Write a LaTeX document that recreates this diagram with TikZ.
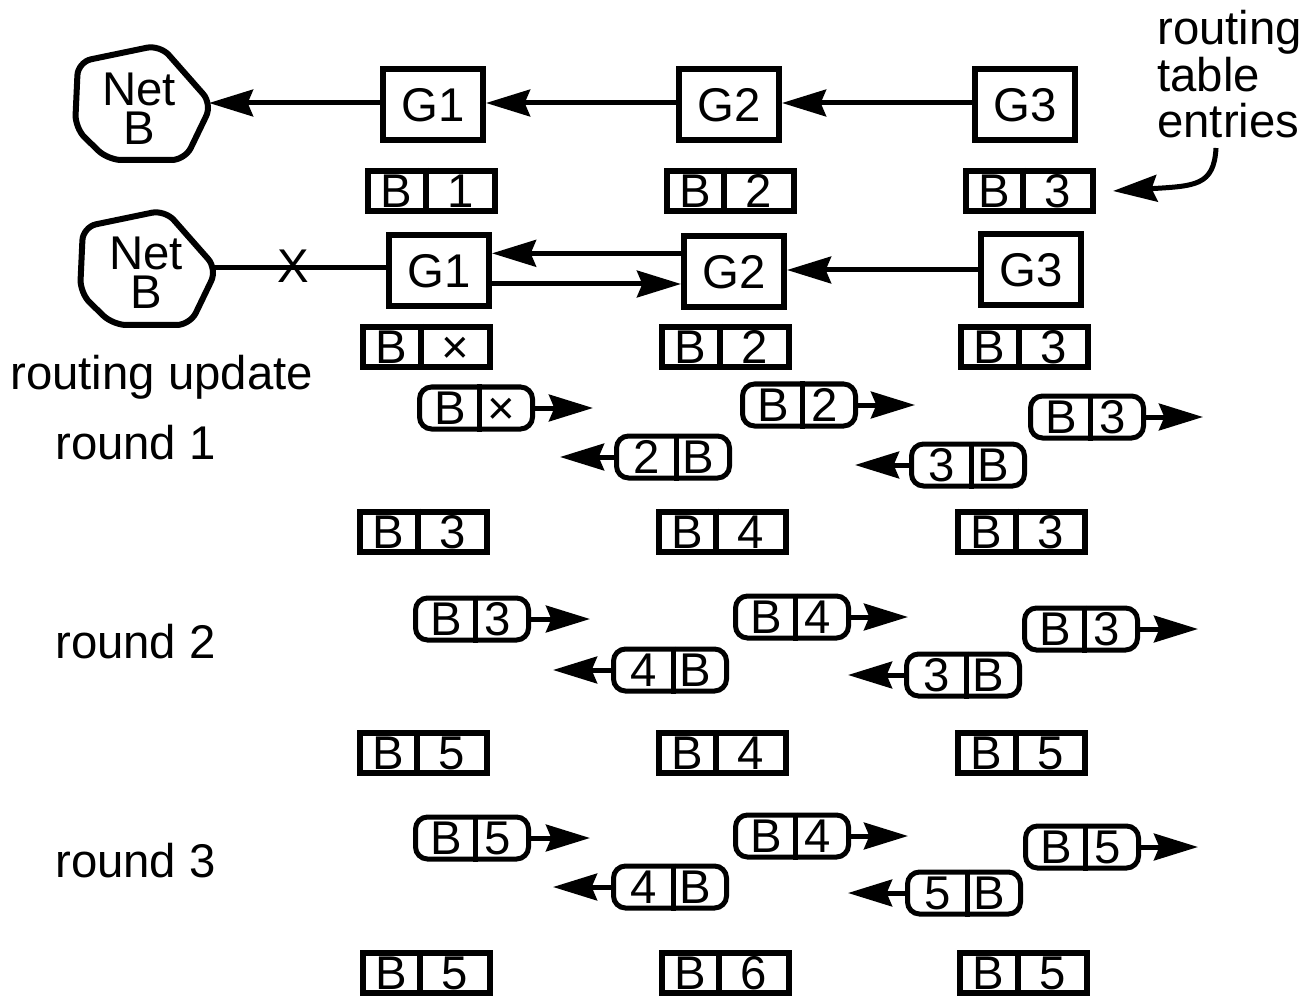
\documentclass[tikz,border=0pt]{standalone}
\usepackage{fontspec}
\setmainfont{Liberation Sans}
\usetikzlibrary{arrows.meta,calc}
\newcommand{\tabent}[5]{%
  \node[tabbox] (#1) at (#2,#3) {};
  \draw[sep] ([xshift=-4.5pt]#1.north) -- ([xshift=-4.5pt]#1.south);
  \node[txt] (#1l) at ([xshift=-26.25pt]#1.center) {#4};
  \node[txt] (#1r) at ([xshift=21.75pt]#1.center) {#5};
}
\newcommand{\pillmsg}[5]{%
  \node[pill] (#1) at (#2,#3) {};
  \draw[pillsep] ([xshift=2.25pt]#1.north) -- ([xshift=2.25pt]#1.south);
  \node[txt] (#1l) at ([xshift=-19.5pt]#1.center) {#4};
  \node[txt] (#1r) at ([xshift=19pt]#1.center) {#5};
}
\begin{document}
\begin{tikzpicture}[x=0.75pt,y=-0.75pt,
  every node/.style={font=\fontsize{35.5}{29.5}\selectfont, inner sep=0pt},
  gbox/.style={draw, line width=4.5pt, minimum width=75pt, minimum height=53.25pt},
  tabbox/.style={draw, line width=4.5pt, minimum width=95.25pt, minimum height=30pt},
  pill/.style={draw, line width=3.75pt, rounded corners=9pt, minimum width=84.75pt, minimum height=31.5pt},
  sep/.style={line width=4.5pt},
  pillsep/.style={line width=3.75pt},
  arr/.style={line width=3.75pt, -{Stealth[length=33pt,width=20pt,inset=4pt]}},
  conn/.style={line width=3.75pt},
  netline/.style={line width=4.5pt, rounded corners=10pt},
  txt/.style={text height=25.4pt, text depth=0pt},
  lbl/.style={anchor=base west}
]
\useasboundingbox (0,0) rectangle (1313,998);

% ---- row 1 ----
\draw[netline] (78,62) -- (160,45) -- (212,104) -- (185,160) -- (108,160) -- (75,128) -- cycle;
\node[align=center] (nb1) at (139,108.5) {Net\\B};
\coordinate (nb1e) at (209,103);
\node[gbox] (g1a) at (433,105) {G1};
\node[gbox] (g2a) at (729,105) {G2};
\node[gbox] (g3a) at (1025,105) {G3};
\draw[arr] ([yshift=1.5pt]g1a.west) -- (nb1e);
\draw[arr] ([yshift=1.5pt]g2a.west) -- ([yshift=1.5pt]g1a.east);
\draw[arr] ([yshift=1.5pt]g3a.west) -- ([yshift=1.5pt]g2a.east);
\tabent{ta1}{431.5}{191}{B}{1}
\tabent{ta2}{730}{191}{B}{2}
\tabent{ta3}{1029}{191}{B}{3}

\node[lbl] (rt1) at (1157,45) {routing};
\node[lbl] (rt2) at (1157,92) {table};
\node[lbl] (rt3) at (1157,138) {entries};
\coordinate (rts) at (1216,148);
\coordinate (rtt) at (1113,191);
\draw[arr] (rts) .. controls (1214,186) and (1195,186) .. (rtt);

% ---- row 2 ----
\begin{scope}[shift={(5,165)}]
\draw[netline] (78,62) -- (160,45) -- (212,104) -- (185,160) -- (108,160) -- (75,128) -- cycle;
\end{scope}
\node[align=center] (nb2) at (146,272.5) {Net\\B};
\coordinate (nb2e) at (214,268);
\node[gbox] (g1b) at (439,271) {G1};
\node[gbox] (g2b) at (734,272) {G2};
\node[gbox] (g3b) at (1031,270) {G3};
\draw[conn] (nb2e) -- (nb2e -| g1b.west);
\node (xx) at (293,266) {X};
\draw[arr] ([yshift=14pt]g2b.west) -- ([yshift=14pt]g2b.west -| g1b.east);
\draw[arr] ([yshift=-9.75pt]g1b.east) -- ([yshift=-9.75pt]g1b.east -| g2b.west);
\draw[arr] (g3b.west) -- (g3b.west -| g2b.east);
\tabent{tb1}{426.5}{347}{B}{×}
\tabent{tb2}{725.5}{347}{B}{2}
\tabent{tb3}{1024.5}{347}{B}{3}

\node[lbl] (ru) at (10,389) {routing update};

% ---- round 1 ----
\node[lbl] (r1) at (55,459) {round 1};
\pillmsg{p1a}{476}{408}{B}{×}
\pillmsg{p1b}{673}{457}{2}{B}
\pillmsg{p1c}{799}{405}{B}{2}
\pillmsg{p1d}{968}{465}{3}{B}
\pillmsg{p1e}{1087}{417}{B}{3}
\coordinate (t1a) at (593,408);
\coordinate (t1b) at (560,457);
\coordinate (t1c) at (915,405);
\coordinate (t1d) at (855,465);
\coordinate (t1e) at (1203,417);
\draw[arr] (p1a.east) -- (t1a);
\draw[arr] (p1b.west) -- (t1b);
\draw[arr] (p1c.east) -- (t1c);
\draw[arr] (p1d.west) -- (t1d);
\draw[arr] (p1e.east) -- (t1e);
\tabent{tc1}{423.5}{531.5}{B}{3}
\tabent{tc2}{722}{531.5}{B}{4}
\tabent{tc3}{1021.5}{531.5}{B}{3}

% ---- round 2 ----
\node[lbl] (r2) at (55,658) {round 2};
\pillmsg{p2a}{472}{619}{B}{3}
\pillmsg{p2b}{670}{670}{4}{B}
\pillmsg{p2c}{792}{617}{B}{4}
\pillmsg{p2d}{963}{675}{3}{B}
\pillmsg{p2e}{1081}{629}{B}{3}
\coordinate (t2a) at (590,619);
\coordinate (t2b) at (553,670);
\coordinate (t2c) at (908,617);
\coordinate (t2d) at (848,675);
\coordinate (t2e) at (1198,629);
\draw[arr] (p2a.east) -- (t2a);
\draw[arr] (p2b.west) -- (t2b);
\draw[arr] (p2c.east) -- (t2c);
\draw[arr] (p2d.west) -- (t2d);
\draw[arr] (p2e.east) -- (t2e);
\tabent{td1}{423}{753}{B}{5}
\tabent{td2}{722}{753}{B}{4}
\tabent{td3}{1021.5}{753}{B}{5}

% ---- round 3 ----
\node[lbl] (r3) at (55,877) {round 3};
\pillmsg{p3a}{472}{838}{B}{5}
\pillmsg{p3b}{670}{887}{4}{B}
\pillmsg{p3c}{792}{836}{B}{4}
\pillmsg{p3d}{964}{893}{5}{B}
\pillmsg{p3e}{1082}{847}{B}{5}
\coordinate (t3a) at (590,838);
\coordinate (t3b) at (553,887);
\coordinate (t3c) at (908,836);
\coordinate (t3d) at (848,893);
\coordinate (t3e) at (1198,847);
\draw[arr] (p3a.east) -- (t3a);
\draw[arr] (p3b.west) -- (t3b);
\draw[arr] (p3c.east) -- (t3c);
\draw[arr] (p3d.west) -- (t3d);
\draw[arr] (p3e.east) -- (t3e);
\tabent{te1}{426}{973}{B}{5}
\tabent{te2}{725}{973}{B}{6}
\tabent{te3}{1023.5}{973}{B}{5}
\end{tikzpicture}
\end{document}
